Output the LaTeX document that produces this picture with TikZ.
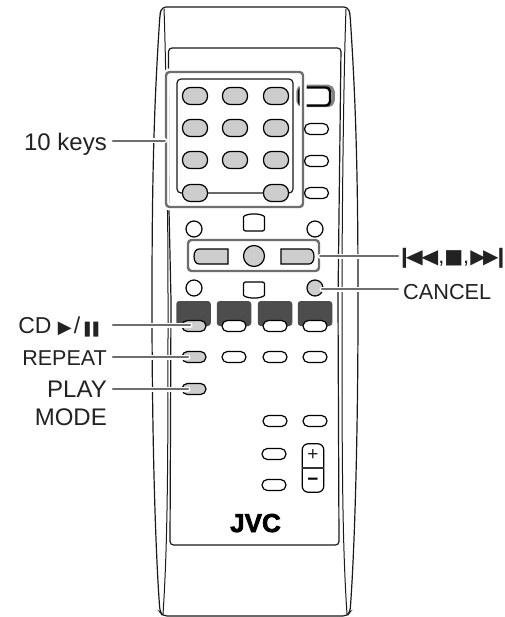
\documentclass[tikz,border=0pt]{standalone}
\usepackage{fontspec}
\setmainfont{Liberation Sans}
\newfontfamily\symf{DejaVu Sans}
\newfontfamily\logof{Liberation Sans}[FakeBold=2.5]
\definecolor{framegray}{HTML}{6E6E6E}
\definecolor{keygray}{HTML}{CDCDCD}
\definecolor{darkkey}{HTML}{4D4D4D}
\definecolor{ink}{HTML}{222222}
\tikzset{
  bodyline/.style={draw=black!90,line width=1.2pt},
  keybtn/.style={draw=black,line width=1.2pt,fill=white,rounded corners=5.4pt,minimum width=24pt,minimum height=11pt,inner sep=0pt},
  graykey/.style={keybtn,fill=keygray},
  numkey/.style={draw=black,line width=1.2pt,fill=keygray,rounded corners=8pt,minimum width=25pt,minimum height=17pt,inner sep=0pt},
  roundbtn/.style={draw=black,line width=1.2pt,fill=white,circle,minimum size=16pt,inner sep=0pt},
  darksq/.style={fill=darkkey,rounded corners=3pt,minimum width=34.5pt,minimum height=25pt,inner sep=0pt},
  grayframe/.style={draw=framegray,line width=2.4pt,rounded corners=3.5pt,inner sep=0pt},
  leader/.style={draw=framegray,line width=2.4pt,line cap=round,preaction={draw=white,line width=5pt,line cap=round}},
  lab/.style={text=ink,inner sep=0pt,anchor=base east},
  labl/.style={text=ink,inner sep=0pt,anchor=base west},
}
\newcommand{\fsz}[1]{\fontsize{#1}{#1}\selectfont}
\begin{document}
\begin{tikzpicture}[x=1pt,y=-1pt]
\useasboundingbox (0,0) rectangle (504,617);
\fill[white] (0,0) rectangle (504,617);
% body
\draw[bodyline,rounded corners=4pt] (162,7) -- (348,7) -- (350,14)
  .. controls (355,90) and (358,160) .. (358,300)
  .. controls (358,450) and (354,560) .. (350,612) -- (347,616) -- (163,616) -- (160,612)
  .. controls (156,560) and (152,450) .. (152,300)
  .. controls (152,160) and (155,90) .. (160,14) -- cycle;
\draw[draw=black!90,line width=1pt] (164,9) .. controls (166,60) and (168,200) .. (168,300)
  .. controls (168,450) and (168,540) .. (163,614);
\draw[draw=black!90,line width=1pt] (346,9) .. controls (344,60) and (342,200) .. (342,300)
  .. controls (342,450) and (342,540) .. (347,614);
% panel
\draw[bodyline,rounded corners=3.5pt] (169,210) -- (168.5,48) -- (341,48) -- (338,300) -- (339,545) -- (170,545) -- (171,300) -- cycle;
% inner keypad outline
\draw[bodyline,rounded corners=4pt] (177,193) -- (177,79) -- (293,79) -- (293,193) -- cycle;
% number keys
\foreach \n/\x/\y in {a/195/96,b/235/96,c/276/96,d/195/128,e/235/128,f/276/128,g/195/160,h/235/160,i/276/160,j/195/193,k/276/193}
  \node[numkey] (n\n) at (\x,\y) {};
% power key
\node[draw=framegray!85,line width=3.5pt,rounded corners=5pt,minimum width=35pt,minimum height=19pt,inner sep=0pt] (pwrhalo) at (315.5,96) {};
\node[draw=black,fill=white,line width=2.4pt,rounded corners=4pt,minimum width=31pt,minimum height=18pt,inner sep=0pt] (pwr) at (314.5,96.5) {};
% frame for ten keys
\node[draw=white,line width=7pt,rounded corners=3.5pt,inner sep=0pt,minimum width=137pt,minimum height=135pt] (tenhalo) at (234.5,139.5) {};
\node[grayframe,minimum width=137pt,minimum height=135pt] (ten) at (234.5,139.5) {};
\node[keybtn] (s1) at (316.5,129) {};
\node[keybtn] (s2) at (316.5,161) {};
\node[keybtn] (s3) at (316.5,193) {};
% upper row
\node[roundbtn] (c1) at (194,229) {};
\node[roundbtn] (c2) at (315,229) {};
\draw[draw=black,line width=1.2pt,fill=white,rounded corners=2pt] (243.5,231) -- (243.5,219) .. controls (243.5,215.5) and (249,214) .. (254,214) .. controls (259,214) and (264.5,215.5) .. (264.5,219) -- (264.5,231) -- cycle;
% transport keys
\node[grayframe,minimum width=131pt,minimum height=31pt] (trans) at (253.5,255.5) {};
\draw[draw=black,line width=1.2pt,fill=keygray] (228,249) -- (228,264) -- (199,264) .. controls (196,264) and (194,261) .. (194,256.5) .. controls (194,252) and (196,249) .. (199,249) -- cycle;
\node[draw=black,line width=1.2pt,fill=keygray,circle,minimum size=21pt,inner sep=0pt] (tc) at (254,256) {};
\draw[draw=black,line width=1.2pt,fill=keygray] (281,249) -- (281,264) -- (309,264) .. controls (312,264) and (314,261) .. (314,256.5) .. controls (314,252) and (312,249) .. (309,249) -- cycle;
% lower row
\node[roundbtn] (c3) at (194,288) {};
\node[roundbtn,fill=keygray] (cancelbtn) at (315,288) {};
\draw[draw=black,line width=1.2pt,fill=white,rounded corners=2pt] (243.5,282) -- (243.5,293) .. controls (243.5,296.5) and (249,298) .. (254,298) .. controls (259,298) and (264.5,296.5) .. (264.5,293) -- (264.5,282) -- cycle;
% dark squares
\node[darksq] (d1) at (193.5,313.5) {};
\node[darksq] (d2) at (234,313.5) {};
\node[darksq] (d3) at (275,313.5) {};
\node[darksq] (d4) at (315,313.5) {};
% key rows
\node[graykey] (cdk) at (194,326) {};
\node[keybtn] (k2) at (234,326) {};
\node[keybtn] (k3) at (275,326) {};
\node[keybtn] (k4) at (315,326) {};
\node[graykey] (repk) at (194,357) {};
\node[keybtn] (k6) at (234,357) {};
\node[keybtn] (k7) at (275,357) {};
\node[keybtn] (k8) at (315,357) {};
\node[graykey] (playk) at (194,389) {};
\node[keybtn] (k9) at (275,421) {};
\node[keybtn] (k10) at (315,421) {};
\node[keybtn] (k11) at (274,454) {};
\node[keybtn] (k12) at (274,485) {};
% volume
\node[draw=black,line width=1.2pt,fill=white,rounded corners=6pt,minimum width=21.5pt,minimum height=48.5pt,inner sep=0pt] (vol) at (313,468) {};
\draw[draw=black!80,line width=1.2pt] (vol.west) -- (vol.east);
\node[inner sep=0pt,font=\fsz{19},text=ink] (plus) at (313,455) {+};
\node[inner sep=0pt,font=\bfseries\fsz{19},text=black] (minus) at (313,482) {−};
% logo
\node[inner sep=0pt,anchor=base,font=\logof\bfseries\fsz{26},text=black] (logo) at (255.5,532) {JVC};
% labels
\node[lab,font=\fsz{24}] (ltk) at (107,151) {10 keys};
\node[lab,font=\fsz{23}] (lcd) at (102.5,333) {CD\ {\symf\fsz{18}▶}\kern2pt/{\symf\fsz{15}\kern1pt❚\kern-4pt❚}};
\node[lab,font=\fsz{21.5}] (lrep) at (107,365) {REPEAT};
\node[lab,font=\fsz{24}] (lplay) at (107,397) {PLAY};
\node[lab,font=\fsz{24}] (lmode) at (107,425) {MODE};
\node[labl,font=\fsz{21.7}] (lskip) at (396,263) {{\symf\fsz{20}❙\kern-7pt\scalebox{1.1}[1]{◀}\kern-1.5pt\scalebox{1.1}[1]{◀}},{\symf\fsz{20}■},\kern1pt{\symf\fsz{20}▶\kern-2.5pt▶\kern-6pt❙\kern-7pt}};
\node[labl,font=\fsz{21.7}] (lcan) at (403,299) {CANCEL};
% connectors
\coordinate (e1) at (113,141);
\coordinate (e2) at (113,325);
\coordinate (e3) at (113,357);
\coordinate (e4) at (113,389);
\coordinate (e5) at (398,256);
\coordinate (e6) at (398,289);
\draw[leader] (e1) -- (ten.west |- e1);
\draw[leader] (e2) -- ([xshift=-4pt,yshift=1pt]cdk.center);
\draw[leader] (e3) -- ([xshift=-6pt]repk.center);
\draw[leader] (e4) -- ([xshift=-6pt]playk.center);
\draw[leader] (e5) -- (trans.east |- e5);
\draw[leader] (e6) -- ([xshift=7pt,yshift=-1pt]cancelbtn.center);
\end{tikzpicture}
\end{document}
